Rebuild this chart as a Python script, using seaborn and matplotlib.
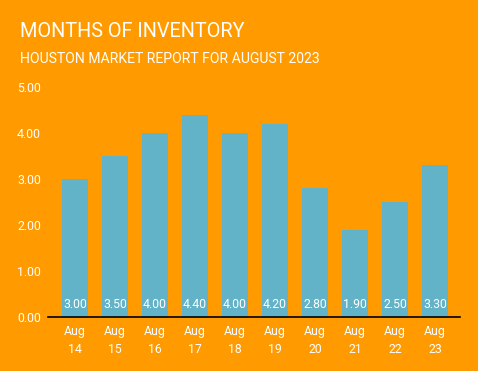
import matplotlib.pyplot as plt
import pandas as pd
import seaborn as sns

# data
months = ["Aug\n14", "Aug\n15", "Aug\n16", "Aug\n17", "Aug\n18",
          "Aug\n19", "Aug\n20", "Aug\n21", "Aug\n22", "Aug\n23"]
inventory = [3.00, 3.50, 4.00, 4.40, 4.00, 4.20, 2.80, 1.90, 2.50, 3.30]
y_ticks = [0, 1, 2, 3, 4, 5]

bg = "#FF9B00"
bar_color = "#62B3C8"

sns.set_style("white")
plt.rcParams["font.family"] = ["Roboto", "DejaVu Sans"]

df = pd.DataFrame({"month": months, "months_inventory": inventory})

fig = plt.figure(figsize=(4.78, 3.71), dpi=100, facecolor=bg)
ax = fig.add_axes([48 / 478, 54 / 371, 412 / 478, 230 / 371])
ax.set_facecolor(bg)

sns.barplot(data=df, x="month", y="months_inventory", color=bar_color,
            saturation=1, width=0.65, linewidth=0, ax=ax)

# value labels at the bottom of each bar
for patch, val in zip(ax.patches, inventory):
    ax.text(patch.get_x() + patch.get_width() / 2, 0.19, f"{val:.2f}",
            ha="center", va="baseline", color="white", fontsize=8.8)

ax.set_xlim(-0.675, 9.625)
ax.set_ylim(0, 5)
ax.set_yticks(y_ticks)
ax.set_yticklabels([f"{t:.2f}" for t in y_ticks])
ax.tick_params(axis="both", colors="white", labelsize=8.8, length=0)
ax.tick_params(axis="y", pad=5)
ax.tick_params(axis="x", pad=6)
for lbl in ax.get_xticklabels():
    lbl.set_linespacing(1.5)
ax.set_xlabel("")
ax.set_ylabel("")

for side in ["top", "right", "left"]:
    ax.spines[side].set_visible(False)
ax.spines["bottom"].set_color("black")
ax.spines["bottom"].set_linewidth(1.2)

fig.text(20 / 478, 1 - 37 / 371, "MONTHS OF INVENTORY", color="white",
         fontsize=14.3, va="baseline", ha="left")
fig.text(20 / 478, 1 - 63 / 371, "HOUSTON MARKET REPORT FOR AUGUST 2023",
         color="white", fontsize=10.1, va="baseline", ha="left")

fig.savefig("out.png", dpi=100, facecolor=bg)
